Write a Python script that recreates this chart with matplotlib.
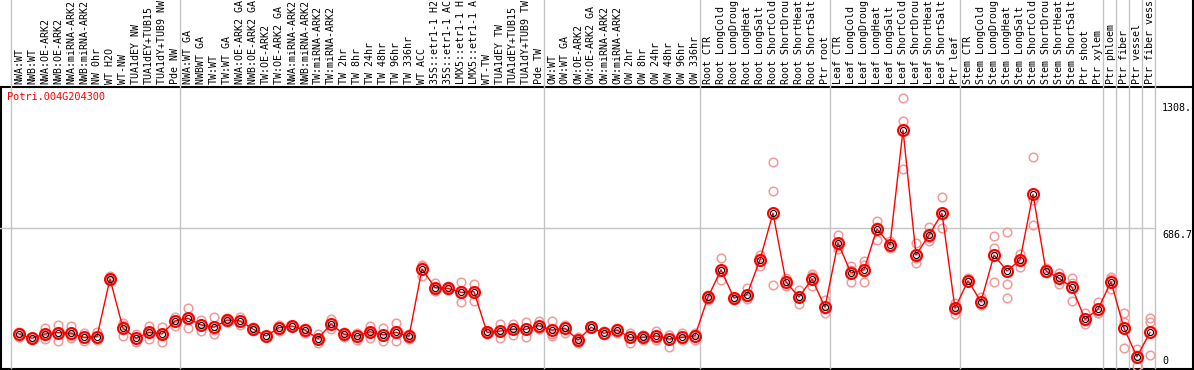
import numpy as np
import matplotlib; matplotlib.use("Agg")
import matplotlib.pyplot as plt
import matplotlib.transforms as mtransforms

gene = "Potri.004G204300"

labels = [
    # NW
    "NWA:WT", "NWB:WT", "NWA:OE-ARK2", "NWB:OE-ARK2", "NWA:miRNA-ARK2", "NWB:miRNA-ARK2",
    "NW 0hr", "WT H2O", "WT-NW", "TUA1dEY NW", "TUA1dEY+TUB15", "TUA1dY+TUB9 NW", "Pde NW",
    # TW
    "NWA:WT GA", "NWBWT GA", "TW:WT", "TW:WT GA", "NWA:OE-ARK2 GA", "NWB:OE-ARK2 GA",
    "TW:OE-ARK2", "TW:OE-ARK2 GA", "NWA:miRNA-ARK2", "NWB:miRNA-ARK2", "TW:miRNA-ARK2",
    "TW:miRNA-ARK2", "TW 2hr", "TW 8hr", "TW 24hr", "TW 48hr", "TW 96hr", "TW 336hr",
    "WT ACC", "35S::etr1-1 H2", "35S::etr1-1 AC", "LMX5::etr1-1 H", "LMX5::etr1-1 A",
    "WT-TW", "TUA1dEY TW", "TUA1dEY+TUB15", "TUA1dY+TUB9 TW", "Pde TW",
    # OW
    "OW:WT", "OW:WT GA", "OW:OE-ARK2", "OW:OE-ARK2 GA", "OW:miRNA-ARK2", "OW:miRNA-ARK2",
    "OW 2hr", "OW 8hr", "OW 24hr", "OW 48hr", "OW 96hr", "OW 336hr",
    # root
    "Root CTR", "Root LongCold", "Root LongDroug", "Root LongHeat", "Root LongSalt",
    "Root ShortCold", "Root ShortDrou", "Root ShortHeat", "Root ShortSalt", "Ptr root",
    # leaf
    "Leaf CTR", "Leaf LongCold", "Leaf LongDroug", "Leaf LongHeat", "Leaf LongSalt",
    "Leaf ShortCold", "Leaf ShortDrou", "Leaf ShortHeat", "Leaf ShortSalt", "Ptr leaf",
    # stem
    "Stem CTR", "Stem LongCold", "Stem LongDroug", "Stem LongHeat", "Stem LongSalt",
    "Stem ShortCold", "Stem ShortDrou", "Stem ShortHeat", "Stem ShortSalt", "Ptr shoot", "Ptr xylem",
    # wood cells
    "Ptr phloem", "Ptr fiber", "Ptr vessel", "Ptr fiber vess",
]
group_sizes = [13, 28, 12, 10, 10, 11, 1, 1, 1, 1]

means = [167, 146, 167, 173, 170, 150, 154, 437, 195, 146, 175, 167, 231,
         244, 211, 200, 235, 231, 191, 157, 198, 206, 186, 144, 216, 165, 157,
         178, 162, 175, 155, 486, 394, 391, 371, 374, 175, 181, 190, 190, 208,
         186, 195, 137, 200, 170, 186, 150, 150, 157, 142, 150, 158,
         347, 482, 343, 360, 531, 760, 422, 348, 437, 298,
         613, 466, 482, 682, 605, 1167, 554, 652, 759, 293,
         428, 325, 554, 476, 530, 852, 476, 440, 396, 239, 288,
         423, 195, 55, 175]

rep1 = [178, 150, 195, 211, 208, 173, 178, 450, 219, 167, 208, 203, 249,
        296, 235, 249, 244, 249, 200, 163, 210, 212, 196, 167, 239, 175, 170,
        208, 195, 219, 167, 502, 415, 400, 423, 412, 183, 216, 216, 224, 231,
        231, 212, 150, 208, 183, 196, 170, 163, 181, 162, 170, 172,
        360, 540, 350, 392, 556, 1010, 440, 384, 461, 335,
        654, 499, 523, 723, 590, 1323, 612, 693, 837, 317,
        440, 350, 647, 665, 559, 1033, 490, 464, 440, 271, 322,
        436, 271, 92, 247]
rep2 = [150, 137, 141, 132, 146, 132, 137, 425, 157, 129, 141, 129, 208,
        195, 183, 167, 225, 211, 180, 152, 181, 199, 173, 124, 190, 152, 137,
        149, 134, 132, 142, 453, 390, 382, 322, 330, 167, 146, 162, 150, 200,
        158, 173, 124, 195, 160, 170, 124, 137, 137, 104, 137, 137,
        335, 430, 335, 340, 499, 867, 401, 314, 401, 270,
        600, 420, 420, 629, 600, 1211, 514, 623, 688, 263,
        420, 309, 587, 410, 494, 701, 470, 412, 329, 214, 271,
        387, 224, 10, 227]
rep3 = [173, 151, 165, 176, 156, 145, 147, 436, 209, 142, 176, 169, 236,
        241, 215, 184, 236, 233, 193, 156, 203, 207, 189, 141, 219, 168, 164,
        177, 157, 174, 156, 503, 377, 391, 368, 380, 175, 181, 192, 196, 193,
        169, 200, 137, 197, 167, 192, 156, 150, 153, 160, 143, 165,
        346, 476, 344, 348, 538, 406, 425, 346, 449, 289,
        585, 479, 503, 694, 625, 976, 538, 640, 752, 299,
        424, 316, 420, 342, 537, 824, 468, 444, 419, 232, 271,
        446, 100, 63, 64]

RED = "#ff0000"
REP = "#f29a9a"
GRID = "#c4c4c4"
FONT = "DejaVu Sans Mono"

W, H = 1194, 370
fig = plt.figure(figsize=(W / 100, H / 100), dpi=100)

# pixel-space layer for the frame
bg = fig.add_axes([0, 0, 1, 1])
bg.set_xlim(0, W); bg.set_ylim(H, 0); bg.axis("off")

# data axes: plot band from y=88 to y=368 px
ax = fig.add_axes([0, (H - 368) / H, 1, (368 - 88) / H])
x = np.arange(len(means))
x0 = -19 / 13
x1 = (W - 19) / 13
ax.set_xlim(x0, x1)
ymax = 686.7 * 2
ax.set_ylim(0, ymax)
ax.axis("off")

# group separators (run through the label band too)
bounds = np.concatenate([[0], np.cumsum(group_sizes)]) - 8 / 13
top_frac = 368 / (368 - 88)
for b in bounds:
    ax.axvline(b, ymin=0, ymax=top_frac, color=GRID, lw=1, clip_on=False, zorder=1)
ax.axhline(686.7, xmin=0, xmax=(bounds[-1] - x0) / (x1 - x0), color=GRID, lw=1, zorder=1)

# replicates, mean line, mean markers
for r in (rep1, rep2, rep3):
    ax.plot(x, r, "o", ms=6.2, mfc="none", mec=REP, mew=1.1, zorder=2, clip_on=False)
ax.plot(x, means, "-", color=RED, lw=1, zorder=3)
ax.plot(x, means, "o", ms=7.8, mfc="none", mec=RED, mew=1.6, zorder=4)
ax.plot(x, means, "o", ms=4.4, mfc="none", mec="black", mew=0.8, zorder=5)

# sample labels
tr = mtransforms.blended_transform_factory(ax.transData, ax.transAxes)
for i, lab in enumerate(labels):
    ax.text(i, (368 - 84) / (368 - 88), lab, transform=tr, rotation=90,
            ha="center", va="bottom", fontsize=7.2, family=FONT, color="black")

# value labels on the right
tr2 = mtransforms.blended_transform_factory(ax.transAxes, ax.transData)
xr = 1162 / W
ax.text(xr, 1300, "1308.", transform=tr2, ha="left", va="top", fontsize=7.2, family=FONT)
ax.text(xr, 686.7 - 8, "686.7", transform=tr2, ha="left", va="top", fontsize=7.2, family=FONT)
ax.text(xr, 8, "0", transform=tr2, ha="left", va="bottom", fontsize=7.2, family=FONT)

# gene id
ax.text(7 / W, (368 - 97) / (368 - 88), gene, transform=ax.transAxes, ha="left", va="center",
        fontsize=7.4, family=FONT, color=RED)

# frame
bg.plot([0, W], [86.5, 86.5], color="black", lw=1.5)
bg.plot([1, 1], [86.5, 369], color="black", lw=1.5)
bg.plot([0, W], [368.5, 368.5], color="black", lw=1.5)
bg.plot([W - 1.5, W - 1.5], [0, 369], color="black", lw=1.5)

fig.savefig("out.png", dpi=100)
